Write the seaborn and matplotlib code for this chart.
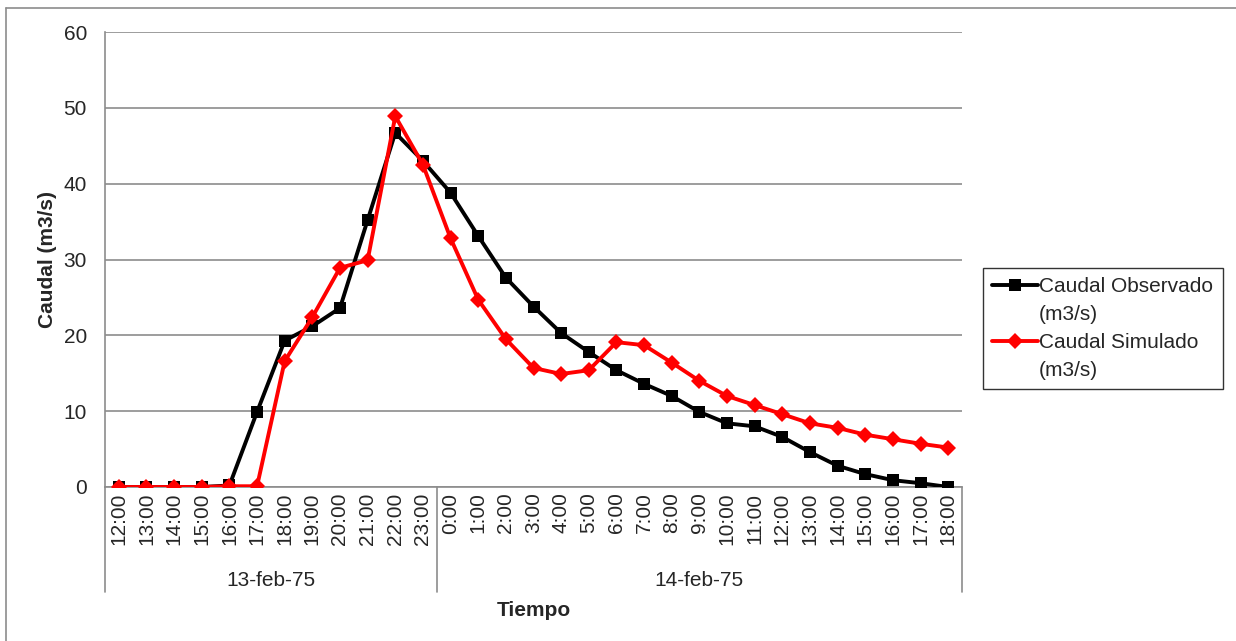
import numpy as np
import pandas as pd
import seaborn as sns
import matplotlib.pyplot as plt
from matplotlib.lines import Line2D
from matplotlib.transforms import blended_transform_factory

# Hours for the two days
hours_day1 = ["12:00", "13:00", "14:00", "15:00", "16:00", "17:00",
              "18:00", "19:00", "20:00", "21:00", "22:00", "23:00"]
hours_day2 = ["0:00", "1:00", "2:00", "3:00", "4:00", "5:00", "6:00",
              "7:00", "8:00", "9:00", "10:00", "11:00", "12:00", "13:00",
              "14:00", "15:00", "16:00", "17:00", "18:00"]
days = ["13-feb-75", "14-feb-75"]

observado = [0, 0, 0, 0, 0.2, 9.9, 19.3, 21.2, 23.6, 35.2, 46.7, 43.0,
             38.8, 33.1, 27.6, 23.8, 20.3, 17.8, 15.4, 13.6, 12.0, 9.9,
             8.4, 8.0, 6.6, 4.6, 2.8, 1.7, 0.9, 0.5, 0.0]
simulado = [0, 0, 0, 0, 0.1, 0.1, 16.6, 22.4, 28.9, 29.9, 48.9, 42.5,
            32.8, 24.7, 19.5, 15.7, 14.9, 15.4, 19.1, 18.7, 16.4, 14.0,
            12.0, 10.8, 9.6, 8.4, 7.8, 6.9, 6.3, 5.7, 5.2]

labels = hours_day1 + hours_day2
n = len(labels)
df = pd.DataFrame({"idx": np.arange(n), "obs": observado, "sim": simulado})

sns.set_style("white")
plt.rcParams["font.family"] = ["Liberation Sans", "DejaVu Sans"]

fig = plt.figure(figsize=(12.36, 6.41), dpi=100)
ax = fig.add_axes([105 / 1236, 1 - 487 / 641, 857 / 1236, 455 / 641])

grid_col = "#8c8c8c"
sns.lineplot(data=df, x="idx", y="obs", ax=ax, color="black", lw=2.8,
             marker="s", markersize=8.5, markeredgewidth=0, zorder=3)
sns.lineplot(data=df, x="idx", y="sim", ax=ax, color="red", lw=2.8,
             marker="D", markersize=8, markeredgewidth=0, zorder=4)

ax.set_xlim(-0.5, n - 0.5)
ax.set_ylim(0, 60)
ax.set_yticks(range(0, 61, 10))
ax.yaxis.grid(True, color=grid_col, lw=1.2)
ax.xaxis.grid(False)
for s in ["top", "right"]:
    ax.spines[s].set_visible(False)
for s in ["left", "bottom"]:
    ax.spines[s].set_color(grid_col)
    ax.spines[s].set_linewidth(1.2)
ax.tick_params(axis="y", length=5, width=1.2, color=grid_col, labelsize=15, pad=8)
ax.set_xticks(range(n))
ax.set_xticklabels(labels, rotation=90, fontsize=15)
ax.tick_params(axis="x", length=0, pad=4)
ax.set_xlabel("")
ax.set_ylabel("Caudal (m3/s)", fontsize=15, fontweight="bold", labelpad=5)

# two-level category axis
trans = blended_transform_factory(ax.transData, ax.transAxes)
sep_bottom = -(592 - 487) / 455
for xs in [-0.5, len(hours_day1) - 0.5, n - 0.5]:
    ax.plot([xs, xs], [0, sep_bottom], transform=trans, color=grid_col,
            lw=1.2, clip_on=False)
centers = [(len(hours_day1) - 1) / 2, len(hours_day1) + (len(hours_day2) - 1) / 2]
for c, d in zip(centers, days):
    ax.text(c, -(580 - 487) / 455, d, transform=trans, ha="center",
            va="center", fontsize=15)
fig.text(534 / 1236, 1 - 610 / 641, "Tiempo", ha="center", va="center",
         fontsize=15, fontweight="bold")

# outer chart border
fig.add_artist(Line2D([6 / 1236, 1.01], [1 - 8 / 641, 1 - 8 / 641],
                      transform=fig.transFigure, color=grid_col, lw=1.2))
fig.add_artist(Line2D([6 / 1236, 6 / 1236], [-0.01, 1 - 8 / 641],
                      transform=fig.transFigure, color=grid_col, lw=1.2))

# legend: handle next to first line of each label
blank = Line2D([], [], color="none")
handles = [Line2D([], [], color="black", lw=2.8, marker="s", markersize=8.5,
                  markeredgewidth=0), blank,
           Line2D([], [], color="red", lw=2.8, marker="D", markersize=8,
                  markeredgewidth=0), blank]
leg_labels = ["Caudal Observado", "(m3/s)", "Caudal Simulado", "(m3/s)"]
leg = fig.legend(handles, leg_labels,
                 loc="upper left", bbox_to_anchor=(983 / 1236, 1 - 268 / 641),
                 fontsize=15, frameon=True, fancybox=False, handlelength=2.2,
                 handletextpad=0.05, borderpad=0.45, labelspacing=0.42,
                 borderaxespad=0)
leg.get_frame().set_edgecolor("black")
leg.get_frame().set_linewidth(1)

fig.savefig("out.png", dpi=100)
